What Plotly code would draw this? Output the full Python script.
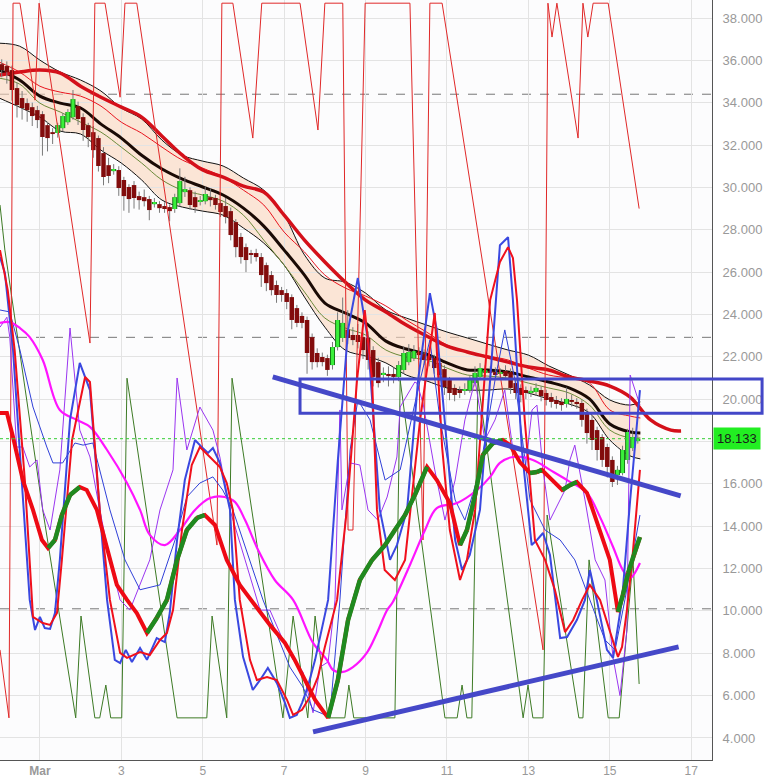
import plotly.graph_objects as go

# ---------------- candles (3h bars, day index: 1 = Mar 1) ----------------
t0 = 0.0625
step = 0.125
opens = [35.82,35.73,35.54,34.69,34.22,33.98,33.79,33.65,33.46,32.94,32.61,32.57,32.80,33.08,33.32,33.84,33.32,32.94,32.61,32.33,
         31.62,31.05,30.77,30.82,30.35,30.02,30.11,29.59,29.54,29.45,29.21,29.21,29.12,29.07,28.98,29.26,29.78,29.87,29.54,29.31,
         29.35,29.54,29.50,29.26,29.12,28.88,28.36,27.66,27.18,26.90,26.90,26.71,26.33,25.86,25.39,25.15,25.01,24.82,24.30,23.93,
         23.74,22.93,22.18,21.99,21.94,21.61,22.46,22.89,23.27,23.03,23.03,22.93,22.89,22.32,21.75,21.14,21.19,21.19,21.05,21.38,
         21.75,21.94,22.23,22.13,22.04,21.94,21.71,21.42,20.90,20.53,20.43,20.39,20.43,20.76,21.05,21.24,21.33,21.28,21.19,21.33,
         21.28,20.76,20.53,20.43,20.29,20.34,20.43,20.29,20.10,19.96,19.87,19.77,19.96,19.87,19.82,19.35,19.02,18.54,18.21,17.74,
         17.13,16.42,16.51,17.13,17.69,18.02]
closes = [35.54,35.44,34.60,33.89,33.75,33.65,33.37,33.18,32.38,32.33,32.52,32.94,33.37,33.56,34.17,33.23,32.71,32.38,31.76,31.01,
          30.49,30.54,30.87,29.97,29.59,29.45,29.50,29.40,29.35,28.93,29.31,29.02,28.98,28.88,29.54,30.30,29.92,29.17,29.07,29.40,
          29.69,29.40,29.17,28.84,28.60,27.75,27.18,26.71,26.57,26.81,26.71,25.86,25.48,25.15,24.92,24.92,24.59,23.74,23.60,23.60,
          22.18,21.75,21.75,21.75,21.38,22.46,23.74,23.60,22.89,22.79,22.70,22.32,21.85,21.05,20.76,21.24,21.09,21.05,21.61,22.18,
          22.23,22.27,22.08,21.85,21.85,21.47,21.14,20.57,20.29,20.20,20.29,20.48,20.90,21.24,21.47,21.38,21.24,21.14,21.28,21.09,
          20.53,20.29,20.20,20.29,20.39,20.53,20.15,19.96,19.87,19.77,19.72,20.01,19.87,19.77,19.02,18.40,18.07,17.60,17.13,16.80,
          16.09,16.66,17.60,18.45,18.21,18.13]
highs = [36.05,35.95,35.75,34.95,34.55,34.20,34.00,33.85,33.60,33.10,32.80,33.05,33.50,33.70,34.60,34.05,33.50,33.05,32.90,32.45,
         31.90,31.40,31.10,31.00,30.50,30.15,30.30,29.80,29.90,29.60,29.50,29.35,29.30,29.20,29.70,30.90,30.50,30.00,29.80,29.60,
         30.05,29.95,29.65,29.40,29.50,29.05,28.50,27.85,27.35,27.05,27.10,26.90,26.45,26.05,25.60,25.30,25.20,24.95,24.45,24.10,
         23.90,23.10,22.40,22.20,22.10,22.70,24.10,24.80,24.20,23.40,23.55,23.15,23.20,22.50,21.95,21.50,21.55,21.50,21.80,22.50,
         22.60,22.55,22.45,22.35,22.40,22.10,21.85,21.60,21.05,20.70,20.60,20.75,21.10,21.55,21.70,21.60,21.55,21.50,21.45,21.60,
         21.45,20.95,20.70,20.60,20.60,20.75,20.60,20.45,20.30,20.15,20.05,20.55,20.20,20.05,19.95,19.55,19.20,18.70,18.35,17.90,
         17.30,16.85,17.80,18.60,18.65,18.30]
lows = [35.20,34.90,34.10,33.30,33.20,33.10,32.90,32.80,31.50,31.70,32.05,32.35,32.65,32.95,33.20,32.95,32.20,31.90,31.40,30.75,
        30.10,30.20,30.60,29.60,28.90,28.80,29.00,28.95,29.10,28.45,29.05,28.80,28.80,28.40,28.80,29.10,29.55,28.95,28.80,29.15,
        29.20,29.10,28.95,28.60,28.30,27.50,26.70,26.40,26.00,26.40,26.50,25.30,25.10,24.90,24.55,24.60,24.25,23.30,23.40,23.35,
        21.20,21.40,21.50,21.55,21.10,21.40,22.30,22.70,22.60,22.55,22.40,21.90,21.40,20.60,20.55,20.80,20.60,20.75,20.85,21.20,
        21.60,21.80,21.85,21.60,21.55,21.20,20.85,20.20,19.95,19.90,20.05,20.20,20.30,20.60,20.90,21.05,21.00,20.95,21.00,20.90,
        20.25,20.00,19.85,20.00,20.10,20.15,19.90,19.70,19.60,19.55,19.45,19.60,19.65,19.55,18.70,17.90,17.60,17.10,16.80,16.30,
        15.85,15.95,16.40,16.95,17.55,17.90]
last_price = 18.133

# ---------------- moving averages / envelope (half-day grid) ----------------
ma_days = [0.0,0.5,1.0,1.5,2.0,2.5,3.0,3.5,4.0,4.5,5.0,5.5,6.0,6.5,7.0,7.5,8.0,8.5,9.0,9.5,10.0,10.5,11.0,11.5,12.0,12.5,13.0,13.5,14.0,14.5,15.0,15.5,15.75]
band_upper = [36.81,36.67,36.01,35.45,35.07,34.55,33.75,33.23,32.23,31.52,31.24,31.01,30.44,29.87,28.69,26.81,25.72,25.53,25.01,24.21,23.83,23.50,23.17,22.89,22.60,22.32,22.08,21.57,21.14,20.67,19.96,19.72,19.87]
band_lower = [34.22,33.79,33.32,32.66,32.52,31.76,31.15,30.35,29.40,29.07,28.88,28.69,28.08,27.37,26.33,24.82,23.40,22.32,22.04,21.71,21.14,20.86,20.53,20.43,20.43,20.48,20.29,20.01,19.77,19.35,18.07,17.32,17.18]
ma_mid = [35.54,35.07,34.31,33.98,33.75,32.99,32.33,31.52,30.87,30.39,30.02,29.64,29.02,28.17,27.04,25.86,24.54,24.07,23.60,22.74,22.37,22.13,21.71,21.38,21.38,21.28,21.05,20.81,20.53,20.01,18.83,18.45,18.40]
ma_olive = [35.16,34.88,33.98,33.56,33.08,32.61,31.90,31.15,30.35,29.87,29.64,29.35,28.69,27.51,26.33,25.06,23.83,23.36,23.03,22.32,21.99,21.85,21.47,21.14,21.09,20.99,20.76,20.53,20.29,19.72,18.54,18.17,18.17]
ma_red_thin = [35.92,35.45,34.78,34.50,34.31,33.84,33.08,32.56,31.90,31.29,30.91,30.49,29.87,29.17,27.89,26.95,25.86,25.25,24.87,24.40,23.74,23.17,22.56,22.23,22.04,21.85,21.47,21.14,20.99,20.76,19.49,19.20,19.11]
ma_red_days = [0.0,0.5,1.0,1.5,2.0,2.5,3.0,3.5,4.0,4.5,5.0,5.5,6.0,6.5,7.0,7.5,8.0,8.5,9.0,9.5,10.0,10.5,11.0,11.5,12.0,12.5,13.0,13.5,14.0,14.5,15.0,15.5,16.0,16.5,16.75]
ma_red_thick = [35.30,35.45,35.54,35.40,34.78,34.26,33.79,33.32,32.42,31.52,30.82,30.49,30.06,29.78,28.69,27.51,26.48,25.53,24.68,24.12,23.50,22.98,22.51,22.23,21.99,21.75,21.52,21.38,21.05,20.86,20.62,20.10,19.02,18.54,18.50]

# ---------------- oscillators drawn on the same scale ----------------
wr_days = [0.02,0.24,0.34,0.51,0.88,0.98,2.23,2.35,2.60,2.97,3.09,3.38,5.35,5.47,5.74,6.23,6.45,7.39,7.83,8.00,8.44,8.57,8.69,8.99,10.09,10.41,10.58,10.88,13.36,13.48,13.58,13.70,14.22,14.34,14.46,14.59,14.96,15.72]
wr_vals = [8.16,4.95,38.70,38.70,34.12,38.70,22.65,38.70,38.70,34.26,38.70,38.70,13.11,38.70,38.70,32.33,38.70,38.70,32.71,38.70,38.70,13.82,13.82,38.70,38.70,13.35,38.70,38.70,8.16,38.70,37.10,38.70,32.33,38.70,37.10,38.70,38.70,29.00]

green_days = [0.02,0.14,1.07,1.42,1.88,2.01,2.35,2.47,2.62,2.74,3.01,3.14,4.37,5.10,5.23,5.59,5.72,6.97,7.22,7.58,7.76,8.08,8.49,8.59,8.71,9.72,9.85,10.95,11.25,11.37,11.49,11.61,11.76,12.87,12.99,13.11,13.36,13.46,14.24,14.34,14.49,14.96,15.23,15.57,15.72]
green_vals = [29.17,27.04,14.77,10.52,4.95,9.76,4.95,4.95,6.50,4.95,4.95,20.99,4.95,4.95,9.76,4.95,20.99,4.95,9.76,4.95,9.76,4.95,4.95,6.50,4.95,4.95,20.90,4.95,4.95,6.50,4.95,4.95,20.90,4.95,6.50,4.95,4.95,14.53,4.95,4.95,12.41,4.95,4.95,12.41,6.55]

thick_days = [0.02,0.19,0.34,0.58,0.83,1.05,1.20,1.37,1.54,1.74,1.98,2.15,2.40,2.65,2.89,3.14,3.38,3.63,3.87,4.12,4.37,4.61,4.86,5.05,5.30,5.59,5.91,6.28,6.65,7.02,7.26,7.51,7.76,8.08,8.32,8.57,8.86,9.16,9.48,9.72,9.97,10.21,10.51,10.75,11.07,11.32,11.49,11.69,11.88,12.13,12.37,12.55,12.79,13.04,13.21,13.33,13.58,13.83,14.02,14.19,14.44,14.76,15.00,15.20,15.32,15.45,15.59,15.74]
thick_vals = [19.35,19.35,18.21,16.18,14.77,13.35,12.97,13.35,14.53,15.47,15.85,15.71,14.77,12.88,11.23,10.52,9.90,8.96,9.67,10.52,12.41,13.82,14.39,14.53,14.06,12.41,11.23,10.28,9.34,8.49,7.69,6.74,5.80,4.95,6.74,9.57,11.46,12.41,13.11,13.82,14.53,15.47,16.80,16.18,15.10,13.11,13.82,15.47,17.37,17.93,18.07,17.83,17.03,16.51,16.56,16.66,16.18,15.71,15.94,16.09,15.57,13.68,12.41,9.95,10.75,11.79,12.64,13.49]

mag_days = [0.02,0.26,0.51,0.75,1.07,1.49,1.91,2.23,2.65,3.14,3.46,3.70,4.07,4.44,4.81,5.18,5.54,5.79,6.04,6.36,6.77,7.22,7.71,8.05,8.20,8.44,8.69,9.03,9.28,9.53,9.67,10.09,10.46,10.75,11.25,11.74,12.06,12.30,12.62,13.11,13.53,13.95,14.44,14.76,15.08,15.32,15.50,15.74]
mag_vals = [23.60,23.64,23.36,22.93,21.85,19.49,19.02,18.69,17.60,16.04,14.77,13.59,13.11,13.82,14.77,15.33,15.38,15.15,14.29,12.88,11.46,10.52,8.49,7.69,7.21,7.12,7.35,8.02,8.96,10.04,10.42,12.17,13.82,14.86,15.10,15.71,16.33,16.99,17.27,17.13,16.66,16.18,15.57,14.43,13.02,11.93,11.56,12.26]

k_days = [0.02,0.14,0.34,0.56,0.75,0.88,1.00,1.12,1.25,1.37,1.49,1.74,1.98,2.23,2.47,2.65,2.84,2.97,3.11,3.26,3.46,3.63,3.87,4.07,4.19,4.37,4.56,4.81,5.00,5.13,5.25,5.42,5.67,5.79,5.99,6.23,6.41,6.60,6.82,7.02,7.14,7.31,7.44,7.58,7.76,7.93,8.08,8.32,8.57,8.81,9.06,9.35,9.60,9.77,10.02,10.29,10.58,10.75,10.95,11.20,11.37,11.56,11.81,12.06,12.30,12.50,12.62,12.84,13.08,13.21,13.36,13.53,13.78,13.95,14.19,14.39,14.51,14.68,14.93,15.08,15.30,15.50,15.74]
k_vals = [26.71,25.96,22.32,16.18,10.52,9.10,9.72,9.19,9.15,9.90,12.41,19.02,21.71,20.43,14.77,10.52,7.69,7.54,8.16,7.59,8.25,7.69,8.72,8.53,9.90,13.35,16.18,18.07,17.69,17.46,17.69,16.99,14.77,10.52,7.83,6.27,6.74,7.31,6.60,5.66,4.95,5.09,5.66,6.41,7.69,9.24,10.52,17.13,23.27,25.72,22.79,14.77,12.41,13.11,14.77,20.90,25.01,23.27,19.02,13.35,11.93,12.64,14.77,20.90,27.27,27.65,24.68,17.60,13.11,13.35,13.68,12.64,8.72,8.77,9.57,10.52,11.93,10.52,8.16,7.78,10.52,15.24,20.43]

d_days = [0.02,0.21,0.38,0.63,0.83,1.07,1.25,1.42,1.54,1.79,2.11,2.23,2.47,2.72,2.97,3.14,3.46,3.70,3.95,4.12,4.27,4.49,4.73,4.93,5.25,5.42,5.59,5.74,5.91,6.16,6.33,6.58,6.82,7.07,7.22,7.44,7.63,7.83,8.00,8.12,8.30,8.54,8.79,8.98,9.16,9.28,9.47,9.72,9.97,10.34,10.70,10.88,11.07,11.32,11.49,11.69,12.06,12.30,12.50,12.62,12.72,12.91,13.16,13.41,13.65,13.90,14.10,14.32,14.51,14.76,15.08,15.20,15.30,15.42,15.55,15.74]
d_vals = [27.04,25.15,22.32,16.18,9.72,9.43,9.34,9.90,12.41,18.07,21.05,20.81,14.77,10.52,8.02,7.78,8.06,7.92,8.63,8.96,10.04,13.82,16.89,17.74,17.13,16.80,16.04,14.77,10.52,7.69,6.74,6.88,6.74,5.80,5.09,5.33,5.94,6.88,8.30,9.24,10.52,14.77,20.90,24.21,20.90,14.77,11.93,11.46,12.41,19.02,24.07,17.74,13.82,11.46,12.41,14.77,24.68,26.48,27.18,26.67,24.68,19.02,13.35,12.41,11.00,9.00,9.57,10.52,11.23,10.52,8.49,7.83,8.30,10.04,12.41,16.66]

tb_days = [0.02,0.26,0.51,0.83,1.17,1.32,1.56,1.86,2.06,2.30,2.72,3.09,3.46,3.95,4.32,4.61,4.93,5.25,5.49,5.74,6.48,6.90,7.14,7.46,7.71,8.12,8.37,8.62,8.81,9.11,9.48,9.85,10.34,10.58,10.83,11.20,11.44,11.81,12.18,12.42,12.67,13.04,13.41,13.78,14.14,14.51,14.88,15.13,15.37,15.74]
tb_vals = [24.21,24.12,22.32,19.63,17.74,16.99,16.99,17.93,17.83,17.93,14.77,12.41,11.00,11.23,13.35,15.38,16.04,16.33,15.71,14.77,10.52,8.49,7.35,6.41,5.33,5.00,10.52,17.60,19.96,19.02,16.18,16.66,20.90,22.79,19.02,15.24,14.29,16.66,20.90,23.27,20.90,15.24,13.82,13.35,12.41,10.52,8.63,8.16,10.52,14.53]

pu_days = [0.02,0.19,0.26,0.43,0.58,0.75,0.93,1.07,1.25,1.49,1.74,1.98,2.23,2.47,2.72,2.97,3.21,3.46,3.70,3.95,4.27,4.37,4.61,4.93,5.25,5.42,5.67,6.04,6.41,6.65,6.97,7.22,7.46,7.71,7.88,8.08,8.25,8.37,8.42,8.62,8.86,9.06,9.30,9.53,9.77,9.85,10.21,10.26,10.41,10.70,10.95,11.20,11.44,11.69,11.93,12.18,12.42,12.62,12.92,13.09,13.21,13.36,13.53,13.90,14.02,14.14,14.39,14.64,14.88,15.08,15.25,15.42,15.50,15.74]
pu_vals = [23.40,23.87,22.93,17.74,17.74,16.80,17.13,14.77,13.82,16.66,23.36,18.54,17.27,14.77,12.41,10.52,10.04,11.23,12.41,14.77,16.66,21.00,17.60,19.63,18.54,17.27,14.77,12.41,10.04,10.04,8.63,7.69,7.12,5.19,7.35,7.59,10.52,19.49,14.77,16.99,16.89,14.77,14.29,15.38,17.27,19.63,20.81,20.76,19.82,16.66,14.29,16.18,19.02,20.90,18.07,19.02,20.43,17.60,16.66,19.49,19.72,16.66,14.29,15.71,17.13,17.83,15.24,12.41,11.46,7.78,6.00,9.10,21.14,19.72]

# trend lines and zone (drawn annotations)
tl_low_days = [7.71, 16.69]
tl_low_vals = [4.29, 8.30]
tl_high_days = [6.72, 16.74]
tl_high_vals = [21.05, 15.43]
zone_days = [7.39, 18.74]
zone_vals = [19.34, 20.95]
levels_dashed = [34.4, 22.92, 10.1]
band_levels = [10.1, 34.4]

x_tickvals = [1, 3, 5, 7, 9, 11, 13, 15, 17]
x_ticktext = ["<b>Mar</b>", "3", "5", "7", "9", "11", "13", "15", "17"]
y_tickvals = [4, 6, 8, 10, 12, 14, 16, 18, 20, 22, 24, 26, 28, 30, 32, 34, 36, 38]
y_ticktext = ["4.000", "6.000", "8.000", "10.000", "12.000", "14.000", "16.000", "", "20.000", "22.000",
              "24.000", "26.000", "28.000", "30.000", "32.000", "34.000", "36.000", "38.000"]

X_RANGE = [0.02, 17.51]
Y_RANGE = [2.96, 38.85]

n = len(closes)
cdays = [t0 + i * step for i in range(n)]

fig = go.Figure()

# moving averages
fig.add_trace(go.Scatter(x=ma_days, y=band_lower, mode="lines", line=dict(color="#111", width=1, shape="spline"), hoverinfo="skip"))
fig.add_trace(go.Scatter(x=ma_days, y=band_upper, mode="lines", line=dict(color="#111", width=1, shape="spline"), hoverinfo="skip"))
fig.add_trace(go.Scatter(x=ma_days, y=ma_olive, mode="lines", line=dict(color="#6b8a3a", width=1, shape="spline")))
fig.add_trace(go.Scatter(x=ma_days, y=ma_red_thin, mode="lines", line=dict(color="#e8141e", width=1, shape="spline")))
fig.add_trace(go.Scatter(x=ma_days, y=ma_mid, mode="lines", line=dict(color="#1a0a05", width=3, shape="spline")))
fig.add_trace(go.Scatter(x=ma_red_days, y=ma_red_thick, mode="lines", line=dict(color="#d4101a", width=3.5, shape="spline")))

# candles: wicks, then bodies (all as scatter so they sit above the envelope fill)
wx, wy = [], []
for d, h, l in zip(cdays, highs, lows):
    wx += [d, d, None]
    wy += [l, h, None]
fig.add_trace(go.Scatter(x=wx, y=wy, mode="lines", line=dict(color="#7a7a7a", width=1), hoverinfo="skip"))

ux, uy, dx_, dy_ = [], [], [], []
for d, o, c in zip(cdays, opens, closes):
    lo, hi = min(o, c), max(o, c)
    if hi - lo < 0.08:
        mid = (hi + lo) / 2
        lo, hi = mid - 0.04, mid + 0.04
    if c >= o:
        ux += [d, d, None]; uy += [lo, hi, None]
    else:
        dx_ += [d, d, None]; dy_ += [lo, hi, None]
fig.add_trace(go.Scatter(x=dx_, y=dy_, mode="lines", line=dict(color="#820c0c", width=4.5), hoverinfo="skip"))
fig.add_trace(go.Scatter(x=ux, y=uy, mode="lines", line=dict(color="#167a16", width=5), hoverinfo="skip"))
fig.add_trace(go.Scatter(x=ux, y=uy, mode="lines", line=dict(color="#3af03a", width=3), hoverinfo="skip"))

# oscillators
fig.add_trace(go.Scatter(x=green_days, y=green_vals, mode="lines", line=dict(color="#3d7a25", width=1)))
fig.add_trace(go.Scatter(x=wr_days, y=wr_vals, mode="lines", line=dict(color="#e02828", width=1)))
fig.add_trace(go.Scatter(x=pu_days, y=pu_vals, mode="lines", line=dict(color="#9a35f0", width=1)))
fig.add_trace(go.Scatter(x=tb_days, y=tb_vals, mode="lines", line=dict(color="#3040d8", width=1)))
fig.add_trace(go.Scatter(x=mag_days, y=mag_vals, mode="lines", line=dict(color="#ff14ff", width=2.2, shape="spline")))
fig.add_trace(go.Scatter(x=k_days, y=k_vals, mode="lines", line=dict(color="#3a48e0", width=2)))
fig.add_trace(go.Scatter(x=d_days, y=d_vals, mode="lines", line=dict(color="#f0101c", width=2)))
fig.add_trace(go.Scatter(x=thick_days, y=thick_vals, mode="lines", line=dict(color="#ee0a14", width=4)))
gx, gy = [], []
for i in range(1, len(thick_vals)):
    if thick_vals[i] > thick_vals[i - 1]:
        gx += [thick_days[i - 1], thick_days[i], None]
        gy += [thick_vals[i - 1], thick_vals[i], None]
fig.add_trace(go.Scatter(x=gx, y=gy, mode="lines", line=dict(color="#1f8a1f", width=4.5)))

# drawn trend lines
fig.add_trace(go.Scatter(x=tl_high_days, y=tl_high_vals, mode="lines", line=dict(color="#4548c8", width=5)))
fig.add_trace(go.Scatter(x=tl_low_days, y=tl_low_vals, mode="lines", line=dict(color="#4548c8", width=5)))

# last price line
fig.add_hline(y=last_price, line=dict(color="#33cc33", width=1, dash="dot"))

shapes = []
shapes.append(dict(type="rect", xref="paper", yref="y", x0=0, x1=1, y0=band_levels[0], y1=band_levels[1],
                   fillcolor="#f4eef5", line=dict(width=0), layer="below"))
# envelope fill as a below-layer path built from the band arrays
pts = ["%s,%s" % (d, v) for d, v in zip(ma_days, band_upper)] + \
      ["%s,%s" % (d, v) for d, v in zip(reversed(ma_days), reversed(band_lower))]
shapes.append(dict(type="path", xref="x", yref="y", path="M " + " L ".join(pts) + " Z",
                   fillcolor="rgba(250,214,188,0.6)", line=dict(width=0), layer="below"))
for lv in levels_dashed:
    shapes.append(dict(type="line", xref="paper", yref="y", x0=0, x1=1, y0=lv, y1=lv,
                       line=dict(color="#777", width=1, dash="dash"), layer="below"))
span = X_RANGE[1] - X_RANGE[0]
shapes.append(dict(type="rect", xref="paper", yref="y",
                   x0=(zone_days[0] - X_RANGE[0]) / span, x1=(zone_days[1] - X_RANGE[0]) / span,
                   y0=zone_vals[0], y1=zone_vals[1], line=dict(color="#4347c8", width=3), fillcolor="rgba(0,0,0,0)"))

fig.update_layout(
    width=769, height=777, margin=dict(l=0, r=57, t=0, b=17),
    paper_bgcolor="#ffffff", plot_bgcolor="#fcfcfd",
    showlegend=False,
    shapes=shapes,
    annotations=[dict(xref="paper", yref="y", x=1.0, y=last_price, xanchor="left", yanchor="middle",
                      text="18.133", showarrow=False, bgcolor="#22ee22", font=dict(color="#1a1a1a", size=13, family="Arial"),
                      borderpad=3, xshift=1)],
    font=dict(family="Arial", color="#999999", size=12),
)
fig.update_xaxes(range=X_RANGE, tickvals=x_tickvals, ticktext=x_ticktext, showgrid=True, gridcolor="#e3e3e3",
                 zeroline=False, showline=True, linecolor="#555", linewidth=1, ticks="",
                 tickfont=dict(size=12, color="#999"))
fig.update_yaxes(range=Y_RANGE, side="right", tickvals=y_tickvals, ticktext=y_ticktext, showgrid=True, gridcolor="#e3e3e3",
                 zeroline=False, showline=True, linecolor="#555", linewidth=1, ticks="", ticklabelstandoff=7,
                 tickfont=dict(size=13, color="#999"))

fig.write_html("out.html", config={"displayModeBar": False},
               post_script="document.body.style.margin='0px';")
